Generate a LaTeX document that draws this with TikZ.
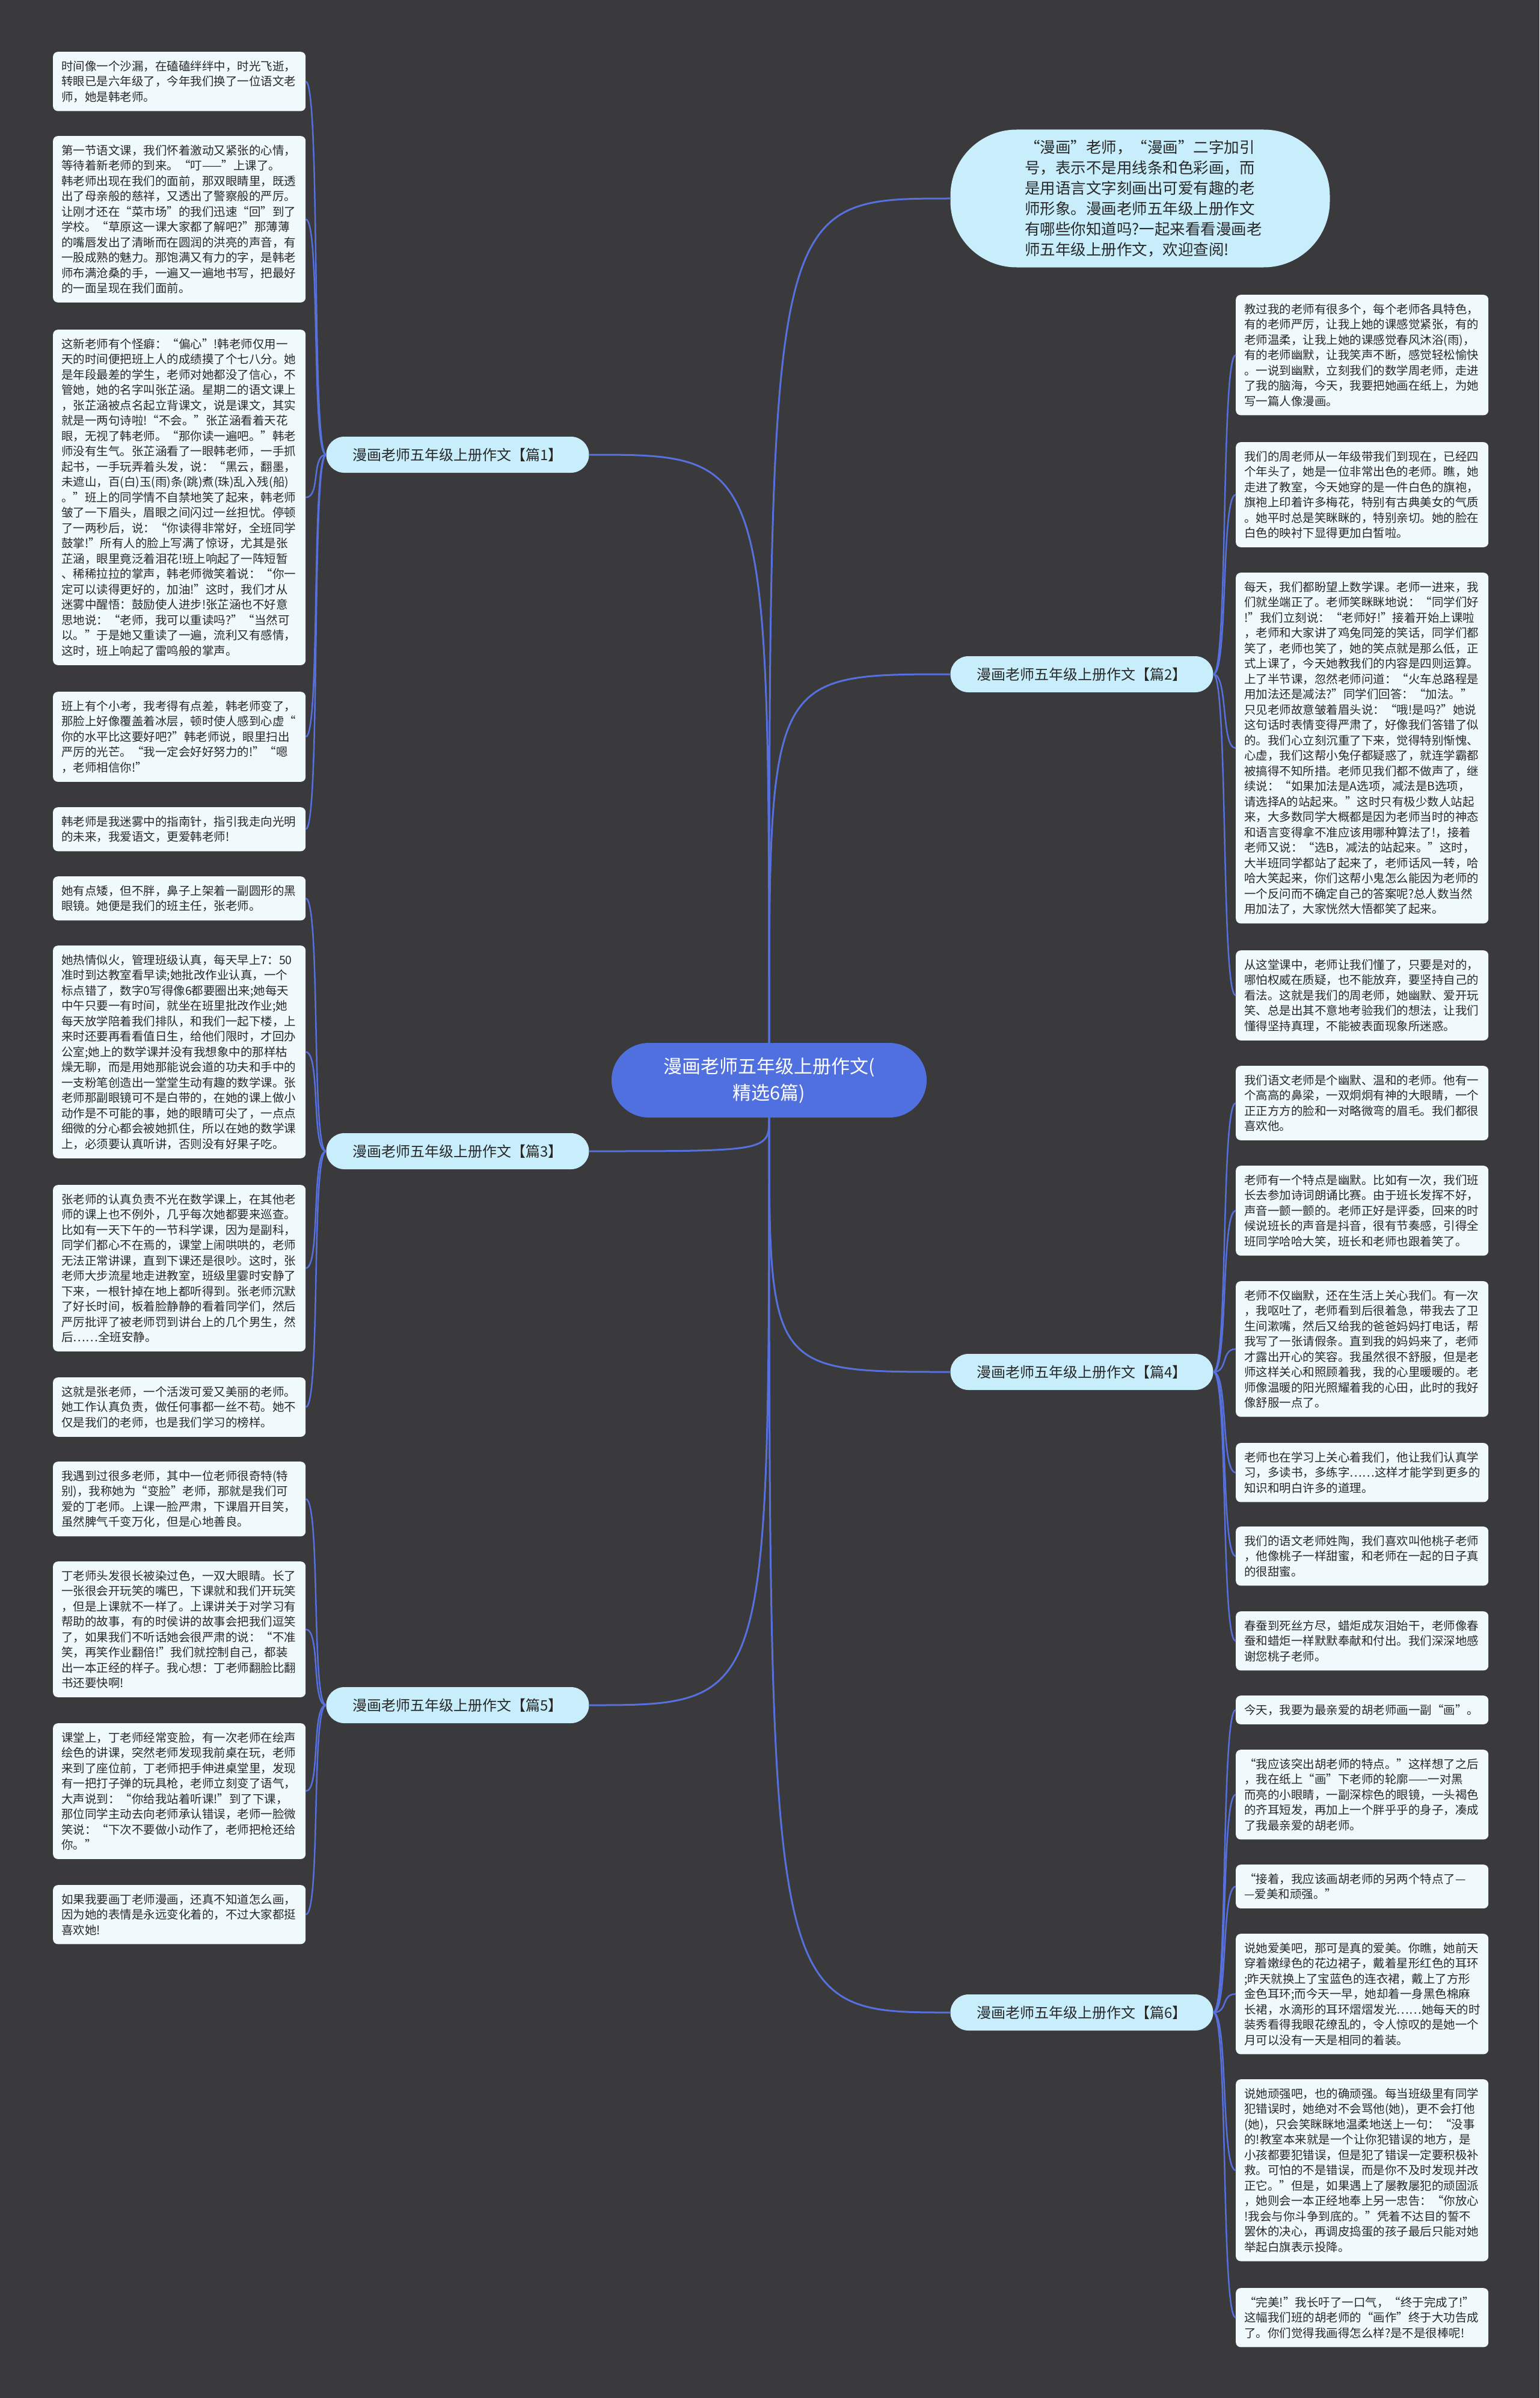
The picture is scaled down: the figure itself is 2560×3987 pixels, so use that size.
\documentclass[tikz,border=0pt]{standalone}
\usepackage{fontspec}
\setmainfont{Noto Sans CJK SC}
\usepackage{tikz}

\definecolor{bgdark}{RGB}{58,57,59}
\definecolor{rootblue}{RGB}{80,112,224}
\definecolor{linkblue}{RGB}{86,112,222}
\definecolor{labelcyan}{RGB}{200,238,252}
\definecolor{leaffill}{RGB}{240,250,253}
\definecolor{textdark}{RGB}{40,40,40}

\tikzset{
  root/.style={fill=rootblue,rounded corners=62pt,minimum width=524pt,minimum height=124pt,align=center,text=white,font=\fontsize{31}{44}\selectfont},
  intro/.style={fill=labelcyan,rounded corners=110pt,minimum width=631pt,minimum height=229pt,text width=384pt,align=left,text=textdark,font=\fontsize{25.5}{34}\selectfont},
  branch/.style={fill=labelcyan,rounded corners=30pt,minimum width=437pt,minimum height=60pt,align=center,text=textdark,font=\fontsize{24}{28}\selectfont},
  leaf/.style={fill=leaffill,rounded corners=8pt,text width=392pt,align=left,inner xsep=14pt,inner ysep=14.5pt,text=textdark,font=\fontsize{19.5}{25.5}\selectfont},
  link/.style={draw=linkblue,line width=3pt},
  twig/.style={draw=linkblue,line width=2.5pt}
}

\begin{document}
\begin{tikzpicture}[x=1pt,y=-1pt]
\fill[bgdark] (0,0) rectangle (2560,3987);
\useasboundingbox (0,0) rectangle (2560,3987);

\node[root] (root) at (1279,1796) {漫画老师五年级上册作文(\\精选6篇)};
\node[intro] (intro) at (1896,330) {“漫画”老师，“漫画”二字加引\\号，表示不是用线条和色彩画，而\\是用语言文字刻画出可爱有趣的老\\师形象。漫画老师五年级上册作文\\有哪些你知道吗?一起来看看漫画老\\师五年级上册作文，欢迎查阅!};

\node[branch] (p1) at (761,756) {漫画老师五年级上册作文【篇1】};
\node[branch] (p3) at (761,1914) {漫画老师五年级上册作文【篇3】};
\node[branch] (p5) at (761,2835) {漫画老师五年级上册作文【篇5】};
\node[branch] (p2) at (1799,1121) {漫画老师五年级上册作文【篇2】};
\node[branch] (p4) at (1799,2281) {漫画老师五年级上册作文【篇4】};
\node[branch] (p6) at (1799,3346) {漫画老师五年级上册作文【篇6】};

\node[leaf,anchor=north west] (p1a) at (88,86) {时间像一个沙漏，在磕磕绊绊中，时光飞逝，\\转眼已是六年级了，今年我们换了一位语文老\\师，她是韩老师。};
\node[leaf,anchor=north west] (p1b) at (88,226) {第一节语文课，我们怀着激动又紧张的心情，\\等待着新老师的到来。“叮——”上课了。\\韩老师出现在我们的面前，那双眼睛里，既透\\出了母亲般的慈祥，又透出了警察般的严厉。\\让刚才还在“菜市场”的我们迅速“回”到了\\学校。“草原这一课大家都了解吧?”那薄薄\\的嘴唇发出了清晰而在圆润的洪亮的声音，有\\一股成熟的魅力。那饱满又有力的字，是韩老\\师布满沧桑的手，一遍又一遍地书写，把最好\\的一面呈现在我们面前。};
\node[leaf,anchor=north west] (p1c) at (88,548) {这新老师有个怪癖：“偏心”!韩老师仅用一\\天的时间便把班上人的成绩摸了个七八分。她\\是年段最差的学生，老师对她都没了信心，不\\管她，她的名字叫张芷涵。星期二的语文课上\\，张芷涵被点名起立背课文，说是课文，其实\\就是一两句诗啦!“不会。”张芷涵看着天花\\眼，无视了韩老师。“那你读一遍吧。”韩老\\师没有生气。张芷涵看了一眼韩老师，一手抓\\起书，一手玩弄着头发，说：“黑云，翻墨，\\未遮山，百(白)玉(雨)条(跳)煮(珠)乱入残(船)\\。”班上的同学情不自禁地笑了起来，韩老师\\皱了一下眉头，眉眼之间闪过一丝担忧。停顿\\了一两秒后，说：“你读得非常好，全班同学\\鼓掌!”所有人的脸上写满了惊讶，尤其是张\\芷涵，眼里竟泛着泪花!班上响起了一阵短暂\\、稀稀拉拉的掌声，韩老师微笑着说：“你一\\定可以读得更好的，加油!”这时，我们才从\\迷雾中醒悟：鼓励使人进步!张芷涵也不好意\\思地说：“老师，我可以重读吗?”“当然可\\以。”于是她又重读了一遍，流利又有感情，\\这时，班上响起了雷鸣般的掌声。};
\node[leaf,anchor=north west] (p1d) at (88,1150) {班上有个小考，我考得有点差，韩老师变了，\\那脸上好像覆盖着冰层，顿时使人感到心虚“\\你的水平比这要好吧?”韩老师说，眼里扫出\\严厉的光芒。“我一定会好好努力的!”“嗯\\，老师相信你!”};
\node[leaf,anchor=north west] (p1e) at (88,1342) {韩老师是我迷雾中的指南针，指引我走向光明\\的未来，我爱语文，更爱韩老师!};

\node[leaf,anchor=north west] (p3a) at (88,1457) {她有点矮，但不胖，鼻子上架着一副圆形的黑\\眼镜。她便是我们的班主任，张老师。};
\node[leaf,anchor=north west] (p3b) at (88,1572) {她热情似火，管理班级认真，每天早上7：50\\准时到达教室看早读;她批改作业认真，一个\\标点错了，数字0写得像6都要圈出来;她每天\\中午只要一有时间，就坐在班里批改作业;她\\每天放学陪着我们排队，和我们一起下楼，上\\来时还要再看看值日生，给他们限时，才回办\\公室;她上的数学课并没有我想象中的那样枯\\燥无聊，而是用她那能说会道的功夫和手中的\\一支粉笔创造出一堂堂生动有趣的数学课。张\\老师那副眼镜可不是白带的，在她的课上做小\\动作是不可能的事，她的眼睛可尖了，一点点\\细微的分心都会被她抓住，所以在她的数学课\\上，必须要认真听讲，否则没有好果子吃。};
\node[leaf,anchor=north west] (p3c) at (88,1970) {张老师的认真负责不光在数学课上，在其他老\\师的课上也不例外，几乎每次她都要来巡查。\\比如有一天下午的一节科学课，因为是副科，\\同学们都心不在焉的，课堂上闹哄哄的，老师\\无法正常讲课，直到下课还是很吵。这时，张\\老师大步流星地走进教室，班级里霎时安静了\\下来，一根针掉在地上都听得到。张老师沉默\\了好长时间，板着脸静静的看着同学们，然后\\严厉批评了被老师罚到讲台上的几个男生，然\\后……全班安静。};
\node[leaf,anchor=north west] (p3d) at (88,2290) {这就是张老师，一个活泼可爱又美丽的老师。\\她工作认真负责，做任何事都一丝不苟。她不\\仅是我们的老师，也是我们学习的榜样。};

\node[leaf,anchor=north west] (p5a) at (88,2430) {我遇到过很多老师，其中一位老师很奇特(特\\别)，我称她为“变脸”老师，那就是我们可\\爱的丁老师。上课一脸严肃，下课眉开目笑，\\虽然脾气千变万化，但是心地善良。};
\node[leaf,anchor=north west] (p5b) at (88,2596) {丁老师头发很长被染过色，一双大眼睛。长了\\一张很会开玩笑的嘴巴，下课就和我们开玩笑\\，但是上课就不一样了。上课讲关于对学习有\\帮助的故事，有的时侯讲的故事会把我们逗笑\\了，如果我们不听话她会很严肃的说：“不准\\笑，再笑作业翻倍!”我们就控制自己，都装\\出一本正经的样子。我心想：丁老师翻脸比翻\\书还要快啊!};
\node[leaf,anchor=north west] (p5c) at (88,2865) {课堂上，丁老师经常变脸，有一次老师在绘声\\绘色的讲课，突然老师发现我前桌在玩，老师\\来到了座位前，丁老师把手伸进桌堂里，发现\\有一把打子弹的玩具枪，老师立刻变了语气，\\大声说到：“你给我站着听课!”到了下课，\\那位同学主动去向老师承认错误，老师一脸微\\笑说：“下次不要做小动作了，老师把枪还给\\你。”};
\node[leaf,anchor=north west] (p5d) at (88,3134) {如果我要画丁老师漫画，还真不知道怎么画，\\因为她的表情是永远变化着的，不过大家都挺\\喜欢她!};

\node[leaf,anchor=north west] (p2a) at (2055,490) {教过我的老师有很多个，每个老师各具特色，\\有的老师严厉，让我上她的课感觉紧张，有的\\老师温柔，让我上她的课感觉春风沐浴(雨)，\\有的老师幽默，让我笑声不断，感觉轻松愉快\\。一说到幽默，立刻我们的数学周老师，走进\\了我的脑海，今天，我要把她画在纸上，为她\\写一篇人像漫画。};
\node[leaf,anchor=north west] (p2b) at (2055,735) {我们的周老师从一年级带我们到现在，已经四\\个年头了，她是一位非常出色的老师。瞧，她\\走进了教室，今天她穿的是一件白色的旗袍，\\旗袍上印着许多梅花，特别有古典美女的气质\\。她平时总是笑眯眯的，特别亲切。她的脸在\\白色的映衬下显得更加白皙啦。};
\node[leaf,anchor=north west] (p2c) at (2055,952) {每天，我们都盼望上数学课。老师一进来，我\\们就坐端正了。老师笑眯眯地说：“同学们好\\!”我们立刻说：“老师好!”接着开始上课啦\\，老师和大家讲了鸡兔同笼的笑话，同学们都\\笑了，老师也笑了，她的笑点就是那么低，正\\式上课了，今天她教我们的内容是四则运算。\\上了半节课，忽然老师问道：“火车总路程是\\用加法还是减法?”同学们回答：“加法。”\\只见老师故意皱着眉头说：“哦!是吗?”她说\\这句话时表情变得严肃了，好像我们答错了似\\的。我们心立刻沉重了下来，觉得特别惭愧、\\心虚，我们这帮小兔仔都疑惑了，就连学霸都\\被搞得不知所措。老师见我们都不做声了，继\\续说：“如果加法是A选项，减法是B选项，\\请选择A的站起来。”这时只有极少数人站起\\来，大多数同学大概都是因为老师当时的神态\\和语言变得拿不准应该用哪种算法了!，接着\\老师又说：“选B，减法的站起来。”这时，\\大半班同学都站了起来了，老师话风一转，哈\\哈大笑起来，你们这帮小鬼怎么能因为老师的\\一个反问而不确定自己的答案呢?总人数当然\\用加法了，大家恍然大悟都笑了起来。};
\node[leaf,anchor=north west] (p2d) at (2055,1580) {从这堂课中，老师让我们懂了，只要是对的，\\哪怕权威在质疑，也不能放弃，要坚持自己的\\看法。这就是我们的周老师，她幽默、爱开玩\\笑、总是出其不意地考验我们的想法，让我们\\懂得坚持真理，不能被表面现象所迷惑。};

\node[leaf,anchor=north west] (p4a) at (2055,1772) {我们语文老师是个幽默、温和的老师。他有一\\个高高的鼻梁，一双炯炯有神的大眼睛，一个\\正正方方的脸和一对略微弯的眉毛。我们都很\\喜欢他。};
\node[leaf,anchor=north west] (p4b) at (2055,1938) {老师有一个特点是幽默。比如有一次，我们班\\长去参加诗词朗诵比赛。由于班长发挥不好，\\声音一颤一颤的。老师正好是评委，回来的时\\候说班长的声音是抖音，很有节奏感，引得全\\班同学哈哈大笑，班长和老师也跟着笑了。};
\node[leaf,anchor=north west] (p4c) at (2055,2130) {老师不仅幽默，还在生活上关心我们。有一次\\，我呕吐了，老师看到后很着急，带我去了卫\\生间漱嘴，然后又给我的爸爸妈妈打电话，帮\\我写了一张请假条。直到我的妈妈来了，老师\\才露出开心的笑容。我虽然很不舒服，但是老\\师这样关心和照顾着我，我的心里暖暖的。老\\师像温暖的阳光照耀着我的心田，此时的我好\\像舒服一点了。};
\node[leaf,anchor=north west] (p4d) at (2055,2399) {老师也在学习上关心着我们，他让我们认真学\\习，多读书，多练字……这样才能学到更多的\\知识和明白许多的道理。};
\node[leaf,anchor=north west] (p4e) at (2055,2538) {我们的语文老师姓陶，我们喜欢叫他桃子老师\\，他像桃子一样甜蜜，和老师在一起的日子真\\的很甜蜜。};
\node[leaf,anchor=north west] (p4f) at (2055,2679) {春蚕到死丝方尽，蜡炬成灰泪始干，老师像春\\蚕和蜡炬一样默默奉献和付出。我们深深地感\\谢您桃子老师。};

\node[leaf,anchor=north west] (p6a) at (2055,2819) {今天，我要为最亲爱的胡老师画一副“画”。};
\node[leaf,anchor=north west] (p6b) at (2055,2909) {“我应该突出胡老师的特点。”这样想了之后\\，我在纸上“画”下老师的轮廓——一对黑\\而亮的小眼睛，一副深棕色的眼镜，一头褐色\\的齐耳短发，再加上一个胖乎乎的身子，凑成\\了我最亲爱的胡老师。};
\node[leaf,anchor=north west] (p6c) at (2055,3100) {“接着，我应该画胡老师的另两个特点了—\\—爱美和顽强。”};
\node[leaf,anchor=north west] (p6d) at (2055,3215) {说她爱美吧，那可是真的爱美。你瞧，她前天\\穿着嫩绿色的花边裙子，戴着星形红色的耳环\\;昨天就换上了宝蓝色的连衣裙，戴上了方形\\金色耳环;而今天一早，她却着一身黑色棉麻\\长裙，水滴形的耳环熠熠发光……她每天的时\\装秀看得我眼花缭乱的，令人惊叹的是她一个\\月可以没有一天是相同的着装。};
\node[leaf,anchor=north west] (p6e) at (2055,3457) {说她顽强吧，也的确顽强。每当班级里有同学\\犯错误时，她绝对不会骂他(她)，更不会打他\\(她)，只会笑眯眯地温柔地送上一句：“没事\\的!教室本来就是一个让你犯错误的地方，是\\小孩都要犯错误，但是犯了错误一定要积极补\\救。可怕的不是错误，而是你不及时发现并改\\正它。”但是，如果遇上了屡教屡犯的顽固派\\，她则会一本正经地奉上另一忠告：“你放心\\!我会与你斗争到底的。”凭着不达目的誓不\\罢休的决心，再调皮捣蛋的孩子最后只能对她\\举起白旗表示投降。};
\node[leaf,anchor=north west] (p6f) at (2055,3804) {“完美!”我长吁了一口气，“终于完成了!”\\这幅我们班的胡老师的“画作”终于大功告成\\了。你们觉得我画得怎么样?是不是很棒呢!};

\draw[link] (root.north) .. controls (root.north |- intro.west) .. (intro.west);
\draw[link] (root.north) .. controls (root.north |- p1.east) .. (p1.east);
\draw[link] (root.north) .. controls (root.north |- p2.west) .. (p2.west);
\draw[link] (root.south) .. controls (root.south |- p3.east) .. (p3.east);
\draw[link] (root.south) .. controls (root.south |- p4.west) .. (p4.west);
\draw[link] (root.south) .. controls (root.south |- p5.east) .. (p5.east);
\draw[link] (root.south) .. controls (root.south |- p6.west) .. (p6.west);

\draw[twig] (p1.west) .. controls +(-25,0) and +(25,0) .. (p1a.east);
\draw[twig] (p1.west) .. controls +(-25,0) and +(25,0) .. (p1b.east);
\draw[twig] (p1.west) .. controls +(-25,0) and +(25,0) .. (p1c.east);
\draw[twig] (p1.west) .. controls +(-25,0) and +(25,0) .. (p1d.east);
\draw[twig] (p1.west) .. controls +(-25,0) and +(25,0) .. (p1e.east);
\draw[twig] (p3.west) .. controls +(-25,0) and +(25,0) .. (p3a.east);
\draw[twig] (p3.west) .. controls +(-25,0) and +(25,0) .. (p3b.east);
\draw[twig] (p3.west) .. controls +(-25,0) and +(25,0) .. (p3c.east);
\draw[twig] (p3.west) .. controls +(-25,0) and +(25,0) .. (p3d.east);
\draw[twig] (p5.west) .. controls +(-25,0) and +(25,0) .. (p5a.east);
\draw[twig] (p5.west) .. controls +(-25,0) and +(25,0) .. (p5b.east);
\draw[twig] (p5.west) .. controls +(-25,0) and +(25,0) .. (p5c.east);
\draw[twig] (p5.west) .. controls +(-25,0) and +(25,0) .. (p5d.east);
\draw[twig] (p2.east) .. controls +(25,0) and +(-25,0) .. (p2a.west);
\draw[twig] (p2.east) .. controls +(25,0) and +(-25,0) .. (p2b.west);
\draw[twig] (p2.east) .. controls +(25,0) and +(-25,0) .. (p2c.west);
\draw[twig] (p2.east) .. controls +(25,0) and +(-25,0) .. (p2d.west);
\draw[twig] (p4.east) .. controls +(25,0) and +(-25,0) .. (p4a.west);
\draw[twig] (p4.east) .. controls +(25,0) and +(-25,0) .. (p4b.west);
\draw[twig] (p4.east) .. controls +(25,0) and +(-25,0) .. (p4c.west);
\draw[twig] (p4.east) .. controls +(25,0) and +(-25,0) .. (p4d.west);
\draw[twig] (p4.east) .. controls +(25,0) and +(-25,0) .. (p4e.west);
\draw[twig] (p4.east) .. controls +(25,0) and +(-25,0) .. (p4f.west);
\draw[twig] (p6.east) .. controls +(25,0) and +(-25,0) .. (p6a.west);
\draw[twig] (p6.east) .. controls +(25,0) and +(-25,0) .. (p6b.west);
\draw[twig] (p6.east) .. controls +(25,0) and +(-25,0) .. (p6c.west);
\draw[twig] (p6.east) .. controls +(25,0) and +(-25,0) .. (p6d.west);
\draw[twig] (p6.east) .. controls +(25,0) and +(-25,0) .. (p6e.west);
\draw[twig] (p6.east) .. controls +(25,0) and +(-25,0) .. (p6f.west);
\end{tikzpicture}
\end{document}
